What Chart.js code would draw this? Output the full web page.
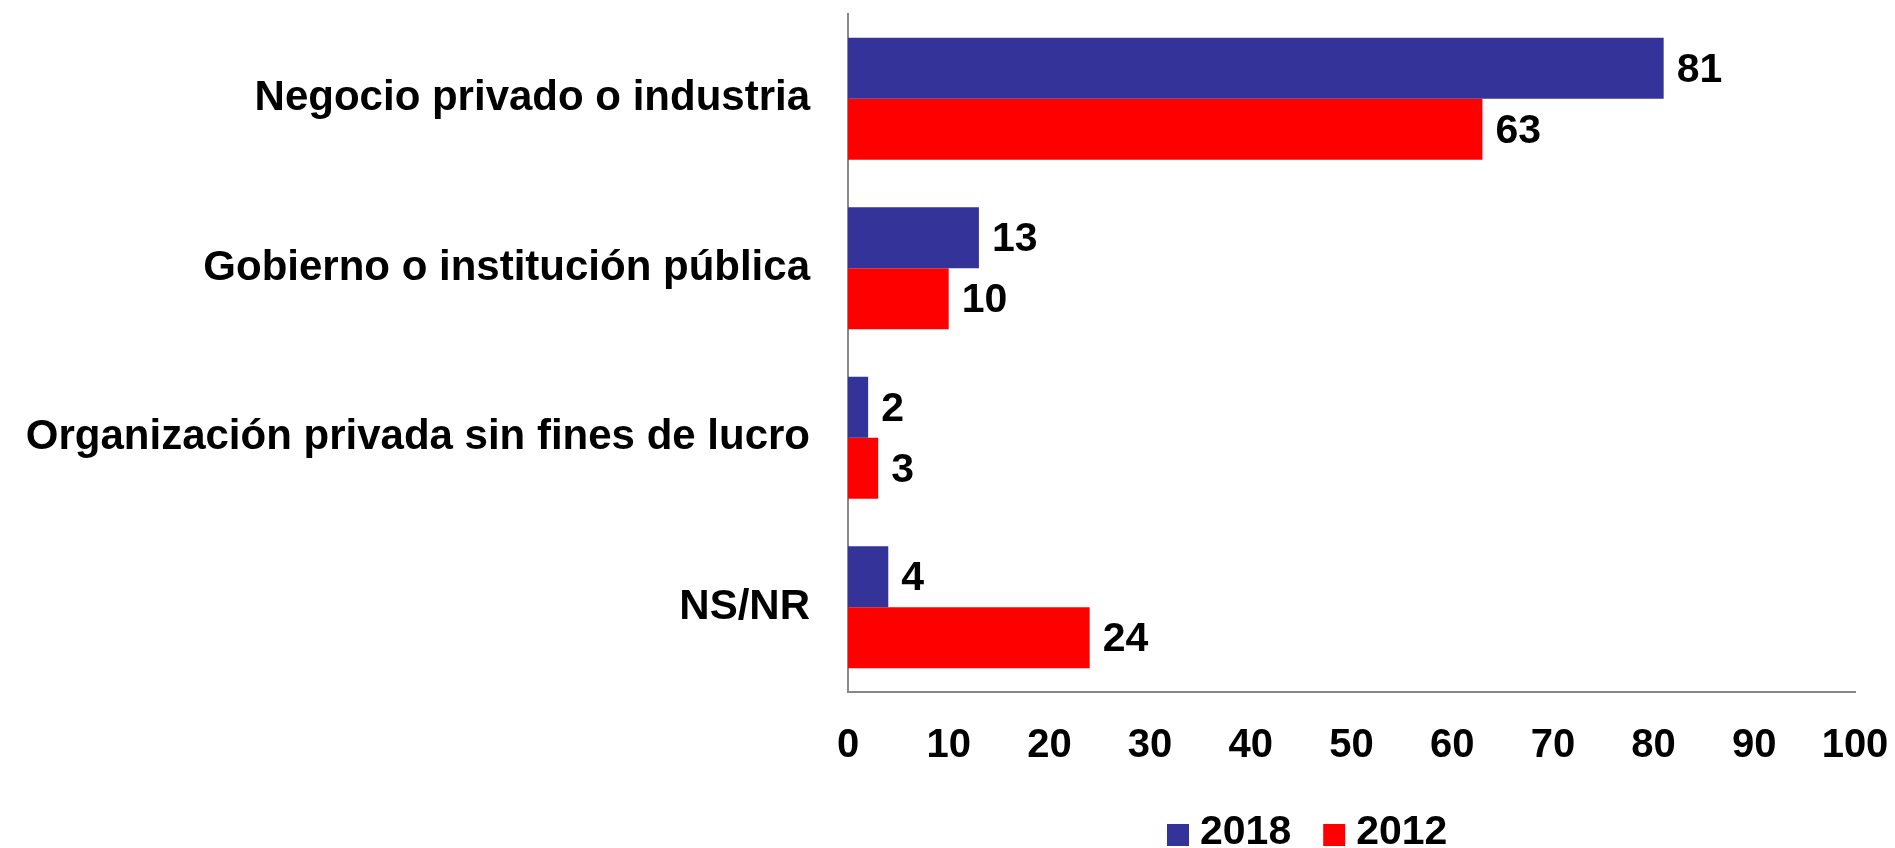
<!DOCTYPE html>
<html>
<head>
<meta charset="utf-8">
<title>Sector de empleo</title>
<script src="https://cdn.jsdelivr.net/npm/chart.js@4.4.1/dist/chart.umd.min.js"></script>
<style>
  html, body { margin: 0; padding: 0; background: #ffffff; }
  #wrap { width: 1895px; height: 848px; }
</style>
</head>
<body>
<div id="wrap"><canvas id="chart" width="1895" height="848"></canvas></div>
<script>
// Categories (top to bottom)
const categories = [
  'Negocio privado o industria',
  'Gobierno o institución pública',
  'Organización privada sin fines de lucro',
  'NS/NR'
];
// Series values (%)
const values2018 = [81, 13, 2, 4];
const values2012 = [63, 10, 3, 24];
const seriesLabels = ['2018', '2012'];
const seriesColors = ['#333399', '#FF0000'];
// Value axis tick labels
const xTicks = [0, 10, 20, 30, 40, 50, 60, 70, 80, 90, 100];

const FONT = '"Liberation Sans", Arial, Helvetica, sans-serif';

// Writes each bar's value just past the end of the bar
const valueLabels = {
  id: 'valueLabels',
  afterDatasetsDraw(chart) {
    const ctx = chart.ctx;
    ctx.save();
    ctx.font = 'bold 41px ' + FONT;
    ctx.fillStyle = '#000000';
    ctx.textAlign = 'left';
    ctx.textBaseline = 'middle';
    chart.data.datasets.forEach((ds, di) => {
      const meta = chart.getDatasetMeta(di);
      meta.data.forEach((bar, i) => {
        ctx.fillText(String(ds.data[i]), bar.x + 13, bar.y + 2);
      });
    });
    ctx.restore();
  }
};

// Series key below the value axis
const seriesKey = {
  id: 'seriesKey',
  afterDraw(chart) {
    const ctx = chart.ctx;
    const area = chart.chartArea;
    ctx.save();
    ctx.font = 'bold 41px ' + FONT;
    ctx.textBaseline = 'middle';
    ctx.textAlign = 'left';
    const box = 22, gap = 11, itemGap = 32;
    const yMid = area.bottom + 141;
    let x = area.left + 319;
    chart.data.datasets.forEach((ds) => {
      ctx.fillStyle = ds.backgroundColor;
      ctx.fillRect(x, yMid - box / 2 + 2, box, box);
      x += box + gap;
      ctx.fillStyle = '#000000';
      ctx.fillText(ds.label, x, yMid);
      x += ctx.measureText(ds.label).width + itemGap;
    });
    ctx.restore();
  }
};

new Chart(document.getElementById('chart'), {
  type: 'bar',
  data: {
    labels: categories,
    datasets: [
      { label: seriesLabels[0], data: values2018, backgroundColor: seriesColors[0], borderWidth: 0 },
      { label: seriesLabels[1], data: values2012, backgroundColor: seriesColors[1], borderWidth: 0 }
    ]
  },
  options: {
    indexAxis: 'y',
    responsive: false,
    animation: false,
    devicePixelRatio: 1,
    categoryPercentage: 0.72,
    barPercentage: 1.0,
    layout: { padding: { top: 14, right: 40, bottom: 76, left: 0 } },
    plugins: {
      legend: { display: false },
      tooltip: { enabled: false }
    },
    scales: {
      y: {
        type: 'category',
        grid: { display: false, drawTicks: false },
        border: { display: true, color: '#888888', width: 2 },
        ticks: {
          color: '#000000',
          font: { family: FONT, size: 42, weight: 'bold' },
          padding: 38
        },
        afterFit(scale) {
          scale.width = 848;
          scale.paddingTop = 0;
          scale.paddingBottom = 0;
        }
      },
      x: {
        type: 'linear',
        min: 0,
        max: 100,
        afterBuildTicks(scale) { scale.ticks = xTicks.map(v => ({ value: v })); },
        grid: { display: false, drawTicks: false },
        border: { display: true, color: '#888888', width: 2 },
        ticks: {
          color: '#000000',
          font: { family: FONT, size: 40, weight: 'bold' },
          padding: 30,
          maxRotation: 0,
          autoSkip: false
        },
        afterFit(scale) {
          scale.height = 80;
          scale.paddingLeft = 0;
          scale.paddingRight = 0;
        }
      }
    }
  },
  plugins: [valueLabels, seriesKey]
});
</script>
</body>
</html>
